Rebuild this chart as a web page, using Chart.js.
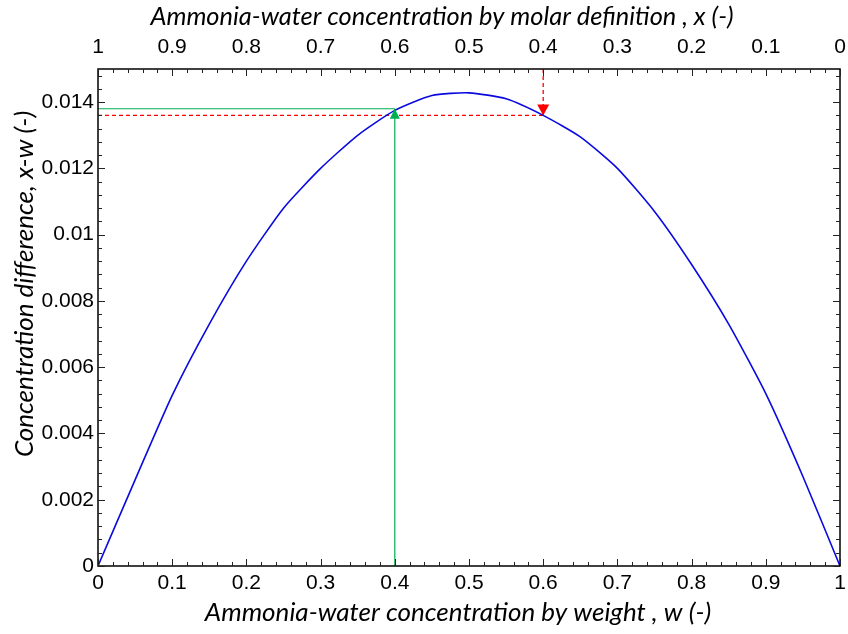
<!DOCTYPE html>
<html><head><meta charset="utf-8">
<script src="https://cdn.jsdelivr.net/npm/chart.js@4.4.0/dist/chart.umd.min.js"></script>
<style>html,body{margin:0;padding:0;background:#fff;}</style>
</head><body>
<canvas id="c" width="848" height="634"></canvas>
<script>
// ---- data ----
const weightFraction = [0, 0.05, 0.1, 0.15, 0.2, 0.25, 0.3, 0.35, 0.4, 0.45, 0.5, 0.55, 0.6, 0.65, 0.7, 0.75, 0.8, 0.85, 0.9, 0.95, 1];
const concDifference = [0, 0.0026, 0.00515, 0.0073, 0.0092, 0.0108, 0.0120, 0.0130, 0.01375, 0.0142, 0.01428, 0.0141, 0.0136, 0.01295, 0.0120, 0.0107, 0.0091, 0.0073, 0.0052, 0.0027, 0];
const greenMarker = [0.4, 0.0138];   // w, x-w
const redMarker = [0.6, 0.0136];     // w, x-w (x = 0.4 molar)
const yTop = 0.015;
const titleTop = 'Ammonia-water concentration by molar definition , x (-)';
const titleBottom = 'Ammonia-water concentration by weight , w (-)';
const titleLeft = 'Concentration difference, x-w (-)';

const curve = weightFraction.map((w, i) => ({x: w, y: concDifference[i]}));
const GREEN = '#00b050', RED = '#ff0000', BLUE = '#0a0ae0';
const fmt = v => String(+v.toFixed(4));
const tickFont = {family: 'Liberation Sans', size: 21};
const noGrid = {display: false, drawTicks: false, tickLength: 0};
const noSidePad = s => { s.paddingLeft = 0; s.paddingRight = 0; };

const decor = {
  id: 'decor',
  afterDatasetsDraw(chart) {
    const {ctx, chartArea: a, scales} = chart;
    const xs = scales.x, ys = scales.y;
    ctx.save();
    // arrow heads
    let px = xs.getPixelForValue(greenMarker[0]), py = ys.getPixelForValue(greenMarker[1]);
    ctx.fillStyle = GREEN;
    ctx.beginPath(); ctx.moveTo(px, py); ctx.lineTo(px - 5, py + 10); ctx.lineTo(px + 5, py + 10); ctx.closePath(); ctx.fill();
    px = xs.getPixelForValue(redMarker[0]); py = ys.getPixelForValue(redMarker[1]);
    ctx.fillStyle = RED;
    ctx.beginPath(); ctx.moveTo(px, py); ctx.lineTo(px - 6, py - 11); ctx.lineTo(px + 6, py - 11); ctx.closePath(); ctx.fill();
    // frame
    ctx.strokeStyle = '#000'; ctx.lineWidth = 1.5;
    ctx.strokeRect(a.left, a.top, a.right - a.left, a.bottom - a.top);
    // inside ticks
    ctx.lineWidth = 1; ctx.strokeStyle = '#222';
    ctx.beginPath();
    for (let i = 0; i <= 50; i++) {
      const x = Math.round(xs.getPixelForValue(i * 0.02)) + 0.5;
      const L = i % 5 === 0 ? 7 : 4;
      ctx.moveTo(x, a.bottom); ctx.lineTo(x, a.bottom - L);
      ctx.moveTo(x, a.top); ctx.lineTo(x, a.top + L);
    }
    for (let i = 0; i * 0.0004 < yTop; i++) {
      const y = Math.round(ys.getPixelForValue(i * 0.0004)) + 0.5;
      const L = i % 5 === 0 ? 7 : 4;
      ctx.moveTo(a.left, y); ctx.lineTo(a.left + L, y);
      ctx.moveTo(a.right, y); ctx.lineTo(a.right - L, y);
    }
    ctx.stroke();
    // axis titles
    ctx.fillStyle = '#000';
    ctx.textAlign = 'center'; ctx.textBaseline = 'alphabetic';
    ctx.font = 'italic 25.4px Lato';
    ctx.fillText(titleTop, 442, 25);
    ctx.font = 'italic 26px Lato';
    ctx.fillText(titleBottom, 458, 621);
    ctx.translate(33, 284); ctx.rotate(-Math.PI / 2);
    ctx.fillText(titleLeft, 0, 0);
    ctx.restore();
  }
};

new Chart(document.getElementById('c'), {
  type: 'line',
  data: {
    datasets: [
      {data: curve, borderColor: BLUE, borderWidth: 1.6, pointRadius: 0, tension: 0.2, order: 0},
      {data: [{x: 0, y: greenMarker[1]}, {x: greenMarker[0], y: greenMarker[1]}], borderColor: GREEN, borderWidth: 1.2, pointRadius: 0, order: 1},
      {data: [{x: greenMarker[0], y: 0}, {x: greenMarker[0], y: greenMarker[1]}], borderColor: GREEN, borderWidth: 1.2, pointRadius: 0, order: 1},
      {data: [{x: 0, y: redMarker[1]}, {x: redMarker[0], y: redMarker[1]}], borderColor: RED, borderWidth: 1.3, borderDash: [4, 3], pointRadius: 0, order: 1},
      {data: [{x: redMarker[0], y: yTop}, {x: redMarker[0], y: redMarker[1]}], borderColor: RED, borderWidth: 1.3, borderDash: [4, 3], pointRadius: 0, order: 1}
    ]
  },
  options: {
    responsive: false,
    animation: false,
    devicePixelRatio: 1,
    layout: {padding: {left: 0, right: 8, top: 0, bottom: 0}},
    plugins: {legend: {display: false}, tooltip: {enabled: false}},
    scales: {
      x: {
        type: 'linear', position: 'bottom', min: 0, max: 1,
        ticks: {stepSize: 0.1, callback: fmt, font: tickFont, color: '#000', padding: 5, maxRotation: 0},
        grid: noGrid, border: {display: false},
        afterFit: s => { s.height = 68; noSidePad(s); }
      },
      x2: {
        type: 'linear', position: 'top', min: 0, max: 1, reverse: true,
        ticks: {stepSize: 0.1, callback: fmt, font: tickFont, color: '#000', padding: 9, maxRotation: 0},
        grid: noGrid, border: {display: false},
        afterFit: s => { s.height = 69; noSidePad(s); }
      },
      y: {
        type: 'linear', position: 'left', min: 0, max: yTop,
        ticks: {stepSize: 0.002, includeBounds: false, callback: fmt, font: tickFont, color: '#000', padding: 4},
        grid: noGrid, border: {display: false},
        afterFit: s => { s.width = 98; s.paddingTop = 0; s.paddingBottom = 0; }
      }
    }
  },
  plugins: [decor]
});
</script>
</body></html>
